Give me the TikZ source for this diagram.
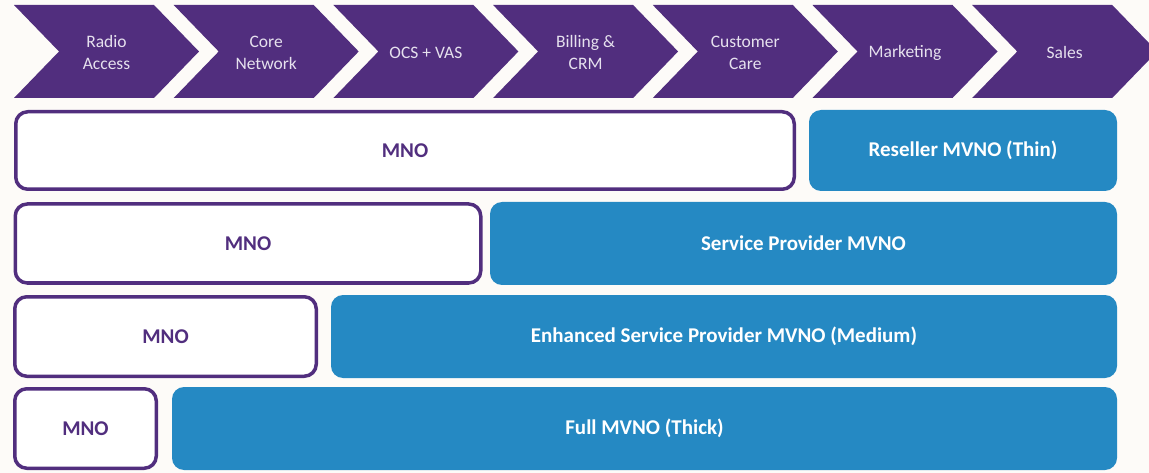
\documentclass[tikz,border=0pt]{standalone}
\usepackage{fontspec}
\setmainfont{Carlito}
\usepackage{tikz}

\definecolor{chainpurple}{HTML}{512E7E}
\definecolor{mvnoblue}{HTML}{2589C3}
\definecolor{paper}{HTML}{FDFBF8}
\definecolor{chaintext}{HTML}{E6E1EE}

\tikzset{
  chainlabel/.style={text=chaintext, font=\fontsize{17.5}{22}\selectfont, align=center},
  mnobox/.style={draw=chainpurple, line width=3.5pt, fill=white, rounded corners=12pt,
    text=chainpurple, font=\fontsize{21}{25}\selectfont\bfseries},
  mvnobox/.style={fill=mvnoblue, rounded corners=12pt, text=white,
    font=\fontsize{21}{25}\selectfont\bfseries}
}

\begin{document}
\begin{tikzpicture}[x=1pt,y=-1pt]
  \useasboundingbox[fill=paper] (0,0) rectangle (1149,473);
  % value chain
  \foreach \i/\name/\txt in {0/radio/Radio\\Access, 1/core/Core\\Network, 2/ocs/OCS + VAS,
      3/billing/Billing \&\\CRM, 4/care/Customer\\Care, 5/marketing/Marketing, 6/sales/Sales} {
    \pgfmathsetmacro{\l}{14+159.7*\i}
    \fill[chainpurple] (\l,5) -- ++(140,0) -- ++(45,46.5) -- ++(-45,46.5) -- ++(-140,0)
      -- ++(45,-46.5) -- cycle;
    \node[chainlabel] (\name) at (\l+92.5,52.5) {\txt};
  }
  % operator types
  \node[mnobox, minimum width=778.5, minimum height=77.5] (mnoa) at (405,150.5) {MNO};
  \node[mvnobox, minimum width=308, minimum height=81] (reseller) at (963,150.5) {Reseller MVNO (Thin)};
  \node[mnobox, minimum width=465.5, minimum height=79] (mnob) at (248,243.5) {MNO};
  \node[mvnobox, minimum width=627, minimum height=83] (provider) at (803.5,243.5) {Service Provider MVNO};
  \node[mnobox, minimum width=301.5, minimum height=79.5] (mnoc) at (165.5,336.5) {MNO};
  \node[mvnobox, minimum width=786, minimum height=83] (enhanced) at (724,336.5) {Enhanced Service Provider MVNO (Medium)};
  \node[mnobox, minimum width=141.5, minimum height=79.5] (mnod) at (85.5,428.5) {MNO};
  \node[mvnobox, minimum width=945, minimum height=83] (full) at (644.5,428.5) {Full MVNO (Thick)};
\end{tikzpicture}
\end{document}
